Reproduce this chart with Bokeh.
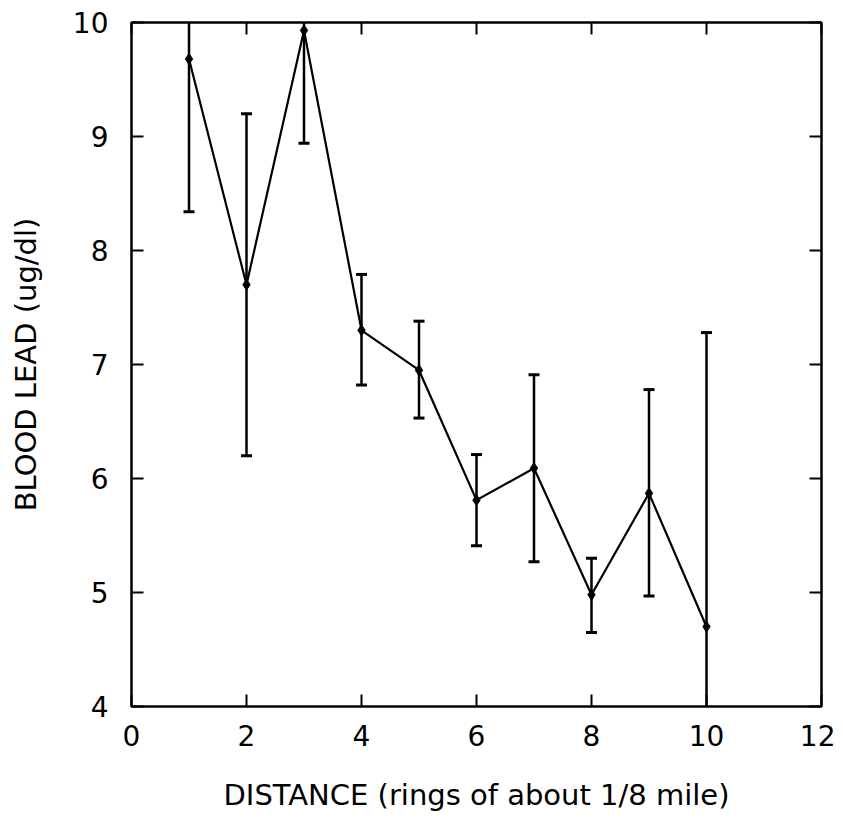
from bokeh.plotting import figure
from bokeh.models import Range1d, FixedTicker, ColumnDataSource, LinearAxis, CustomJSTickFormatter
from bokeh.embed import file_html
from bokeh.resources import INLINE

# Data
distance = [1, 2, 3, 4, 5, 6, 7, 8, 9, 10]
blood_lead = [9.68, 7.70, 9.93, 7.30, 6.95, 5.81, 6.09, 4.98, 5.87, 4.70]
err_lower = [8.34, 6.20, 8.94, 6.82, 6.53, 5.41, 5.27, 4.65, 4.97, 2.12]
err_upper = [11.02, 9.20, 10.92, 7.79, 7.38, 6.21, 6.91, 5.30, 6.78, 7.28]

x_ticks = [0, 2, 4, 6, 8, 10, 12]
y_ticks = [4, 5, 6, 7, 8, 9, 10]

FONT = "DejaVu Sans"
TICK_PX = 12

src = ColumnDataSource(dict(x=distance, y=blood_lead, lo=err_lower, hi=err_upper))

p = figure(width=835, height=814, output_backend="svg", toolbar_location=None,
           x_range=Range1d(x_ticks[0], x_ticks[-1]), y_range=Range1d(y_ticks[0], y_ticks[-1]),
           min_border_left=131, min_border_right=14, min_border_top=22, min_border_bottom=108)
p.grid.visible = False
p.background_fill_color = "white"
p.border_fill_color = "white"
p.outline_line_color = "black"
p.outline_line_width = 2

for ax in (p.xaxis[0], p.yaxis[0]):
    ax.major_tick_in = TICK_PX
    ax.major_tick_out = 0
    ax.minor_tick_in = 0
    ax.minor_tick_out = 0
    ax.axis_line_width = 2
    ax.major_tick_line_width = 2
    ax.major_label_text_font = FONT
    ax.major_label_text_font_size = "28px"
    ax.major_label_text_color = "black"
    ax.axis_label_text_font = FONT
    ax.axis_label_text_font_size = "29px"
    ax.axis_label_text_font_style = "normal"
    ax.axis_label_text_color = "black"

p.xaxis[0].ticker = FixedTicker(ticks=x_ticks)
p.yaxis[0].ticker = FixedTicker(ticks=y_ticks)
p.xaxis[0].major_label_standoff = 18
p.yaxis[0].major_label_standoff = 23
p.xaxis[0].axis_label = "DISTANCE (rings of about 1/8 mile)"
p.yaxis[0].axis_label = "BLOOD LEAD (ug/dl)"
p.xaxis[0].axis_label_standoff = 29
p.yaxis[0].axis_label_standoff = 27

# mirrored axes on top and right: inward ticks, no labels
top_axis = LinearAxis(ticker=FixedTicker(ticks=x_ticks))
right_axis = LinearAxis(ticker=FixedTicker(ticks=y_ticks))
for ax in (top_axis, right_axis):
    ax.major_tick_in = TICK_PX
    ax.major_tick_out = 0
    ax.minor_tick_in = 0
    ax.minor_tick_out = 0
    ax.axis_line_width = 2
    ax.major_tick_line_width = 2
    ax.major_tick_line_color = "black"
    ax.major_label_standoff = 0
    ax.formatter = CustomJSTickFormatter(code="return ''")
p.add_layout(top_axis, "above")
p.add_layout(right_axis, "right")

# error bars
p.segment(x0="x", y0="lo", x1="x", y1="hi", source=src, line_color="black", line_width=2.5)
p.scatter(x="x", y="lo", source=src, marker="dash", size=11, line_color="black", line_width=3)
p.scatter(x="x", y="hi", source=src, marker="dash", size=11, line_color="black", line_width=3)

# line and points
p.line(x="x", y="y", source=src, line_color="black", line_width=2.2)
p.scatter(x="x", y="y", source=src, marker="diamond", size=11, fill_color="black", line_color="black")

open("out.html", "w").write(file_html(p, INLINE))
